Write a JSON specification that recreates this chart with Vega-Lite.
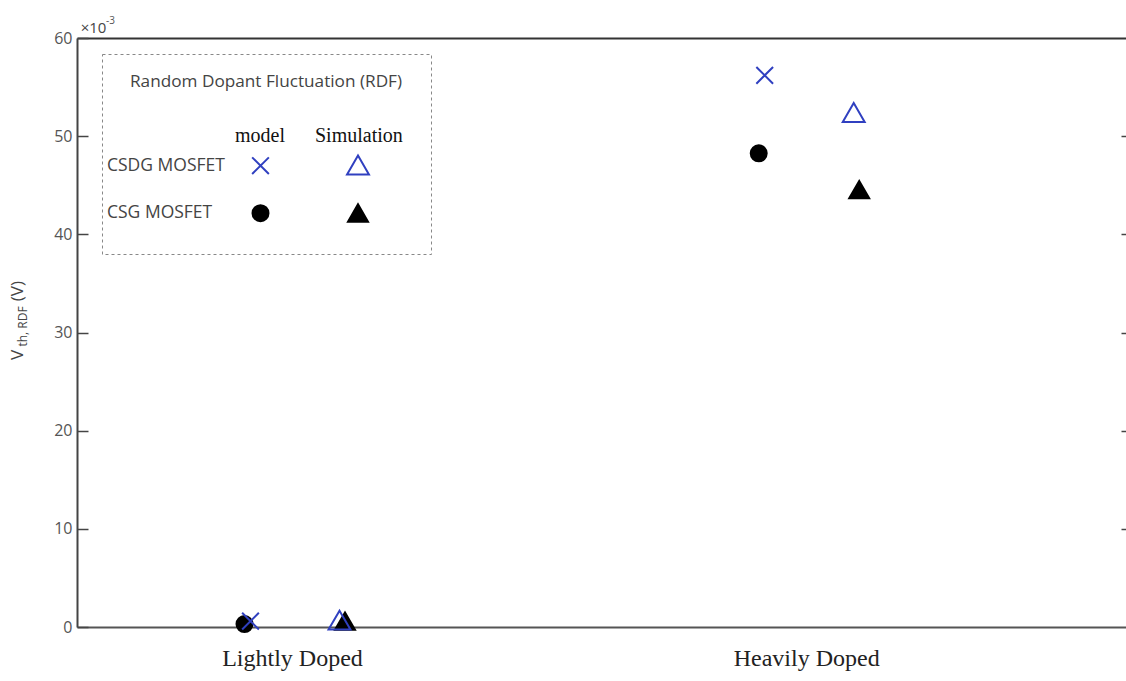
{
  "$schema": "https://vega.github.io/schema/vega-lite/v6.json",
  "width": 1049,
  "height": 589,
  "autosize": "none",
  "padding": {"left": 77, "top": 38, "right": 0, "bottom": 54},
  "background": "white",
  "config": {
    "view": {"stroke": null},
    "axis": {"grid": false},
    "legend": {"strokeDash": [3, 3], "strokeWidth": 1}
  },
  "title": {
    "text": "model\u00a0\u00a0\u00a0\u00a0\u00a0\u00a0Simulation",
    "anchor": "start",
    "frame": "group",
    "orient": "top",
    "offset": 0,
    "dx": 158,
    "dy": 147,
    "baseline": "alphabetic",
    "font": "Liberation Serif",
    "fontSize": 20,
    "fontWeight": "normal",
    "color": "#111"
  },
  "data": {
    "values": [
      {"doping": "Lightly Doped", "device": "CSG MOSFET", "method": "model", "value": 0.3},
      {"doping": "Lightly Doped", "device": "CSG MOSFET", "method": "simulation", "value": 0.6},
      {"doping": "Lightly Doped", "device": "CSDG MOSFET", "method": "model", "value": 0.6},
      {"doping": "Lightly Doped", "device": "CSDG MOSFET", "method": "simulation", "value": 0.7},
      {"doping": "Heavily Doped", "device": "CSG MOSFET", "method": "model", "value": 48.25},
      {"doping": "Heavily Doped", "device": "CSG MOSFET", "method": "simulation", "value": 44.55},
      {"doping": "Heavily Doped", "device": "CSDG MOSFET", "method": "model", "value": 56.2},
      {"doping": "Heavily Doped", "device": "CSDG MOSFET", "method": "simulation", "value": 52.4}
    ]
  },
  "resolve": {
    "axis": {"x": "independent", "y": "independent"},
    "scale": {"shape": "independent", "stroke": "independent", "fill": "independent", "size": "independent", "xOffset": "independent"}
  },
  "layer": [
    {
      "transform": [{"filter": "datum.method == 'model'"}],
      "mark": {"type": "point", "strokeWidth": 2, "opacity": 1},
      "encoding": {
        "x": {
          "field": "doping",
          "type": "nominal",
          "sort": ["Lightly Doped", "Heavily Doped"],
          "scale": {"domain": ["Lightly Doped", "Heavily Doped"], "paddingInner": 0.6, "paddingOuter": 0.32, "align": 0.3423},
          "axis": {
            "orient": "bottom",
            "ticks": false,
            "domain": true,
            "domainColor": "#555",
            "domainWidth": 2,
            "labelAngle": 0,
            "labelFont": "Liberation Serif",
            "labelFontSize": 24,
            "labelColor": "#222",
            "labelPadding": 19,
            "title": "-3",
            "titleFont": "Open Sans",
            "titleFontSize": 10,
            "titleFontWeight": "normal",
            "titleColor": "#555",
            "titleAngle": 0,
            "titleAlign": "center",
            "titleBaseline": "middle",
            "titleX": 33,
            "titleY": -607
          }
        },
        "xOffset": {
          "field": "device",
          "type": "nominal",
          "scale": {"type": "point", "padding": 0, "domain": ["CSDG MOSFET", "CSG MOSFET"], "range": [60.85, 54.85]}
        },
        "y": {
          "field": "value",
          "type": "quantitative",
          "scale": {"domain": [0, 60], "nice": false},
          "axis": {
            "orient": "left",
            "values": [0, 10, 20, 30, 40, 50, 60],
            "tickSize": -11,
            "tickWidth": 1.5,
            "tickColor": "#444",
            "domainColor": "#444",
            "domainWidth": 2,
            "labelFont": "Open Sans",
            "labelFontSize": 16,
            "labelColor": "#555",
            "labelPadding": 16,
            "title": "V\u00a0\u00a0\u00a0\u00a0\u00a0\u00a0\u00a0\u00a0\u00a0\u00a0\u00a0(V)",
            "titleFont": "Open Sans",
            "titleFontSize": 17,
            "titleFontWeight": "normal",
            "titleColor": "#444",
            "titleAngle": 270,
            "titleAlign": "center",
            "titleBaseline": "alphabetic",
            "titleX": -55,
            "titleY": 282
          }
        },
        "shape": {
          "field": "device",
          "type": "nominal",
          "scale": {"domain": ["CSDG MOSFET", "CSG MOSFET"], "range": ["M-1,-1L1,1M-1,1L1,-1", "circle"]},
          "legend": {
            "orient": "none",
            "legendX": 25,
            "legendY": 16,
            "padding": 28,
            "strokeColor": "#888",
            "title": "Random Dopant Fluctuation (RDF)",
            "titleFont": "Open Sans",
            "titleFontSize": 17.2,
            "titleFontWeight": "normal",
            "titleColor": "#444",
            "titleLimit": 500,
            "titleBaseline": "middle",
            "titlePadding": 57,
            "rowPadding": 23,
            "labelFont": "Open Sans",
            "labelFontSize": 17.5,
            "labelColor": "#444",
            "labelAlign": "left",
            "labelOffset": -163,
            "symbolOffset": 121,
            "labelLimit": 300,
            "symbolStrokeWidth": 2
          }
        },
        "stroke": {
          "field": "device",
          "type": "nominal",
          "scale": {"domain": ["CSDG MOSFET", "CSG MOSFET"], "range": ["#3040c0", "#000000"]}
        },
        "fill": {
          "field": "device",
          "type": "nominal",
          "scale": {"domain": ["CSDG MOSFET", "CSG MOSFET"], "range": ["transparent", "#000000"]}
        },
        "size": {
          "field": "device",
          "type": "nominal",
          "scale": {"type": "ordinal", "domain": ["CSDG MOSFET", "CSG MOSFET"], "range": [280, 256]}
        }
      }
    },
    {
      "transform": [{"filter": "datum.method == 'simulation'"}],
      "mark": {"type": "point", "strokeWidth": 2, "opacity": 1},
      "encoding": {
        "x": {"field": "doping", "type": "nominal", "sort": ["Lightly Doped", "Heavily Doped"], "axis": null},
        "xOffset": {
          "field": "device",
          "type": "nominal",
          "scale": {"type": "point", "padding": 0, "domain": ["CSDG MOSFET", "CSG MOSFET"], "range": [149.85, 155.35]}
        },
        "y": {"field": "value", "type": "quantitative", "axis": null},
        "shape": {
          "field": "device",
          "type": "nominal",
          "scale": {"domain": ["CSDG MOSFET", "CSG MOSFET"], "range": ["triangle-up", "triangle-up"]},
          "legend": {
            "orient": "none",
            "legendX": 269,
            "legendY": 115,
            "padding": 0,
            "strokeColor": "transparent",
            "title": null,
            "rowPadding": 21,
            "labelExpr": "''",
            "labelFontSize": 17,
            "symbolStrokeWidth": 2
          }
        },
        "stroke": {
          "field": "device",
          "type": "nominal",
          "scale": {"domain": ["CSDG MOSFET", "CSG MOSFET"], "range": ["#3040c0", "#000000"]}
        },
        "fill": {
          "field": "device",
          "type": "nominal",
          "scale": {"domain": ["CSDG MOSFET", "CSG MOSFET"], "range": ["transparent", "#000000"]}
        },
        "size": {
          "field": "device",
          "type": "nominal",
          "scale": {"type": "ordinal", "domain": ["CSDG MOSFET", "CSG MOSFET"], "range": [480, 400]}
        }
      }
    },
    {
      "mark": {"type": "point", "opacity": 0},
      "encoding": {
        "x": {
          "field": "doping",
          "type": "nominal",
          "sort": ["Lightly Doped", "Heavily Doped"],
          "axis": {
            "orient": "top",
            "ticks": false,
            "labels": false,
            "domain": true,
            "domainColor": "#333",
            "domainWidth": 2,
            "title": "×10",
            "titleFont": "Open Sans",
            "titleFontSize": 15,
            "titleFontWeight": "normal",
            "titleColor": "#444",
            "titleAngle": 0,
            "titleAlign": "center",
            "titleBaseline": "middle",
            "titleX": 16,
            "titleY": -11
          }
        },
        "y": {
          "field": "value",
          "type": "quantitative",
          "axis": {
            "orient": "right",
            "values": [10, 20, 30, 40, 50],
            "labels": false,
            "domain": false,
            "tickSize": -5,
            "tickWidth": 1.5,
            "tickColor": "#444",
            "title": "th, RDF",
            "titleFont": "Open Sans",
            "titleFontSize": 12,
            "titleFontWeight": "normal",
            "titleColor": "#444",
            "titleAngle": 270,
            "titleAlign": "center",
            "titleBaseline": "alphabetic",
            "titleX": -1100,
            "titleY": 288
          }
        }
      }
    }
  ]
}
